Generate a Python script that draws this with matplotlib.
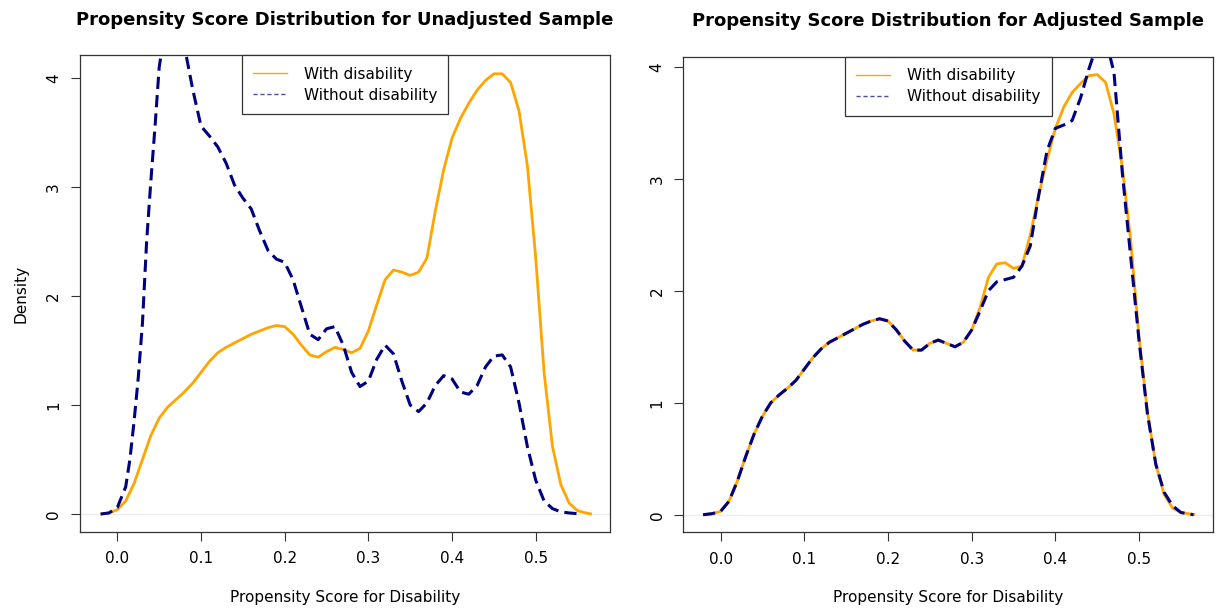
import numpy as np
import matplotlib.pyplot as plt

# density curves (x = propensity score, y = density)
unadj_with_x = [-0.02, -0.01, 0.0, 0.01, 0.02, 0.03, 0.04, 0.05, 0.06, 0.07, 0.08, 0.09, 0.10,
                0.11, 0.12, 0.13, 0.14, 0.15, 0.16, 0.17, 0.18, 0.19, 0.20, 0.21, 0.22, 0.23,
                0.24, 0.25, 0.26, 0.27, 0.28, 0.29, 0.30, 0.31, 0.32, 0.33, 0.34, 0.35, 0.36,
                0.37, 0.38, 0.39, 0.40, 0.41, 0.42, 0.43, 0.44, 0.45, 0.46, 0.47, 0.48, 0.49,
                0.50, 0.51, 0.52, 0.53, 0.54, 0.55, 0.56, 0.567]
unadj_with_y = [0.0, 0.01, 0.04, 0.12, 0.28, 0.50, 0.72, 0.88, 0.98, 1.05, 1.12, 1.20, 1.30,
                1.40, 1.48, 1.53, 1.57, 1.61, 1.65, 1.68, 1.71, 1.73, 1.72, 1.65, 1.55, 1.46,
                1.44, 1.49, 1.53, 1.51, 1.48, 1.52, 1.68, 1.92, 2.15, 2.24, 2.22, 2.19, 2.22,
                2.35, 2.78, 3.16, 3.45, 3.63, 3.77, 3.89, 3.98, 4.04, 4.04, 3.96, 3.70, 3.20,
                2.35, 1.30, 0.62, 0.27, 0.10, 0.03, 0.01, 0.0]

unadj_without_x = [-0.02, -0.01, 0.0, 0.01, 0.015, 0.02, 0.025, 0.03, 0.035, 0.04, 0.045, 0.05,
                   0.06, 0.07, 0.08, 0.09, 0.10, 0.11, 0.12, 0.13, 0.14, 0.15, 0.16, 0.17, 0.18,
                   0.19, 0.20, 0.21, 0.22, 0.23, 0.24, 0.25, 0.26, 0.27, 0.28, 0.29, 0.30, 0.31,
                   0.32, 0.33, 0.34, 0.35, 0.36, 0.37, 0.38, 0.39, 0.40, 0.41, 0.42, 0.43, 0.44,
                   0.45, 0.46, 0.47, 0.48, 0.49, 0.50, 0.51, 0.52, 0.53, 0.54, 0.555]
unadj_without_y = [0.0, 0.01, 0.06, 0.25, 0.50, 0.85, 1.25, 1.75, 2.50, 3.05, 3.55, 4.10,
                   4.60, 4.70, 4.30, 3.90, 3.56, 3.47, 3.37, 3.22, 3.02, 2.90, 2.80, 2.60, 2.42,
                   2.34, 2.31, 2.15, 1.90, 1.65, 1.60, 1.70, 1.72, 1.55, 1.30, 1.17, 1.22, 1.42,
                   1.55, 1.47, 1.22, 1.00, 0.94, 1.02, 1.18, 1.27, 1.24, 1.12, 1.10, 1.18, 1.35,
                   1.45, 1.46, 1.35, 1.02, 0.62, 0.31, 0.12, 0.05, 0.02, 0.01, 0.0]

adj_with_x = [-0.02, -0.01, 0.0, 0.01, 0.02, 0.03, 0.04, 0.05, 0.06, 0.07, 0.08, 0.09, 0.10,
              0.11, 0.12, 0.13, 0.14, 0.15, 0.16, 0.17, 0.18, 0.19, 0.20, 0.21, 0.22, 0.23,
              0.24, 0.25, 0.26, 0.27, 0.28, 0.29, 0.30, 0.31, 0.32, 0.33, 0.34, 0.35, 0.36,
              0.37, 0.38, 0.39, 0.40, 0.41, 0.42, 0.43, 0.44, 0.45, 0.46, 0.47, 0.48, 0.49,
              0.50, 0.51, 0.52, 0.53, 0.54, 0.55, 0.567]
adj_with_y = [0.0, 0.01, 0.03, 0.12, 0.30, 0.52, 0.72, 0.88, 1.00, 1.07, 1.13, 1.20, 1.30,
              1.40, 1.48, 1.54, 1.58, 1.62, 1.66, 1.70, 1.73, 1.75, 1.73, 1.65, 1.55, 1.47,
              1.47, 1.53, 1.56, 1.53, 1.50, 1.54, 1.65, 1.85, 2.12, 2.24, 2.25, 2.20, 2.22,
              2.50, 2.85, 3.17, 3.45, 3.64, 3.77, 3.85, 3.92, 3.93, 3.86, 3.58, 3.10, 2.45,
              1.58, 0.92, 0.45, 0.18, 0.06, 0.02, 0.0]

adj_without_x = [-0.021, -0.01, 0.0, 0.01, 0.02, 0.03, 0.04, 0.05, 0.06, 0.07, 0.08, 0.09, 0.10,
                 0.11, 0.12, 0.13, 0.14, 0.15, 0.16, 0.17, 0.18, 0.19, 0.20, 0.21, 0.22, 0.23,
                 0.24, 0.25, 0.26, 0.27, 0.28, 0.29, 0.30, 0.31, 0.32, 0.33, 0.34, 0.35, 0.36,
                 0.37, 0.38, 0.39, 0.40, 0.41, 0.42, 0.43, 0.44, 0.45, 0.46, 0.47, 0.48, 0.49,
                 0.50, 0.51, 0.52, 0.53, 0.54, 0.55, 0.565]
adj_without_y = [0.0, 0.01, 0.03, 0.12, 0.30, 0.52, 0.72, 0.88, 1.00, 1.07, 1.13, 1.20, 1.30,
                 1.40, 1.48, 1.54, 1.58, 1.62, 1.66, 1.70, 1.73, 1.75, 1.73, 1.65, 1.55, 1.47,
                 1.47, 1.53, 1.56, 1.53, 1.50, 1.54, 1.65, 1.82, 2.00, 2.08, 2.10, 2.12, 2.22,
                 2.40, 2.85, 3.25, 3.45, 3.48, 3.52, 3.72, 3.98, 4.20, 4.25, 3.95, 3.05, 2.30,
                 1.55, 0.90, 0.45, 0.20, 0.08, 0.02, 0.0]

titles = ["Propensity Score Distribution for Unadjusted Sample",
          "Propensity Score Distribution for Adjusted Sample"]
labels = ["With disability", "Without disability"]
x_ticks = [0.0, 0.1, 0.2, 0.3, 0.4, 0.5]
y_ticks = [0, 1, 2, 3, 4]

orange = "#FFA500"
navy = "#000080"

fig = plt.figure(figsize=(12.16, 6.13), dpi=100)
ax1 = fig.add_axes([0.0658, 0.1321, 0.4358, 0.7777])
ax2 = fig.add_axes([0.5619, 0.1316, 0.4359, 0.7754])

panels = [
    (ax1, unadj_with_x, unadj_with_y, unadj_without_x, unadj_without_y, (-0.165, 4.21)),
    (ax2, adj_with_x, adj_with_y, adj_without_x, adj_without_y, (-0.157, 4.087)),
]

for i, (ax, wx, wy, nx, ny, ylim) in enumerate(panels):
    ax.axhline(0, color="#ececec", lw=1, zorder=0)
    ax.plot(wx, wy, color=orange, lw=2.0, solid_capstyle="butt")
    ax.plot(nx, ny, color=navy, lw=2.2, linestyle=(0, (4, 2)), dash_capstyle="butt")
    ax.set_xlim(-0.0446, 0.5887)
    ax.set_ylim(*ylim)
    ax.set_xticks(x_ticks)
    ax.set_xticklabels(["%.1f" % t for t in x_ticks])
    ax.set_yticks(y_ticks)
    ax.set_yticklabels([str(t) for t in y_ticks], rotation=90, va="center")
    ax.tick_params(axis="x", length=6.5, width=0.8, color="#333333", labelsize=11, pad=7.5)
    ax.tick_params(axis="y", length=6.5, width=0.8, color="#333333", labelsize=11, pad=7)
    for s in ax.spines.values():
        s.set_color("#333333")
        s.set_linewidth(0.9)
    ax.set_xlabel("Propensity Score for Disability", fontsize=11, labelpad=17)
    ax.set_title(titles[i], fontsize=13, fontweight="bold", pad=22)

    h1, = ax.plot([], [], color=orange, lw=1)
    h2, = ax.plot([], [], color=navy, lw=1, linestyle=(0, (3, 2)), alpha=0.7)
    leg = ax.legend([h1, h2], labels, loc="upper center", borderaxespad=0,
                    fancybox=False, framealpha=1, edgecolor="#333333", fontsize=11,
                    handlelength=2.2, borderpad=0.75, labelspacing=0.38, handletextpad=1.1)
    leg.get_frame().set_linewidth(0.9)

ax1.set_ylabel("Density", fontsize=11, labelpad=13)

fig.savefig("out.png", dpi=100)
